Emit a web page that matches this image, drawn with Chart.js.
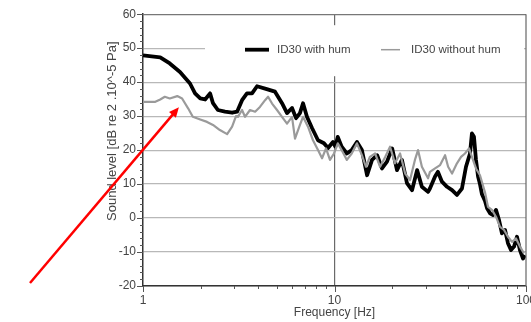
<!DOCTYPE html>
<html>
<head>
<meta charset="utf-8">
<script src="https://cdn.jsdelivr.net/npm/chart.js@4.4.0/dist/chart.umd.min.js"></script>
<style>
  html, body { margin: 0; padding: 0; background: #fff; overflow: hidden; }
  #wrap { width: 560px; height: 322px; }
</style>
</head>
<body>
<div id="wrap"><canvas id="chart" width="560" height="322"></canvas></div>
<script>
// data (frequency in Hz, level in dB)
const freqWithHum = [1.00, 1.23, 1.38, 1.56, 1.76, 1.87, 1.99, 2.11, 2.24, 2.32, 2.46, 2.68, 2.92, 3.10, 3.29, 3.49, 3.71, 3.94, 4.34, 4.89, 5.32, 5.65, 6.00, 6.30, 6.60, 6.85, 7.18, 7.63, 8.20, 8.81, 9.25, 9.82, 10.1, 10.4, 10.9, 11.6, 12.3, 13.1, 13.9, 14.8, 15.7, 16.7, 17.7, 18.8, 20.0, 21.2, 22.5, 23.9, 25.4, 27.0, 28.6, 30.8, 31.5, 33.5, 34.7, 36.4, 38.7, 41.1, 43.6, 46.3, 48.6, 51.0, 52.2, 53.5, 54.8, 56.2, 57.5, 58.9, 61.1, 62.6, 64.9, 67.3, 69.7, 72.3, 74.9, 77.7, 80.5, 83.5, 86.6, 89.7, 93.0, 96.5, 98.8]
const levelWithHum = [47.9, 47.3, 45.5, 43.0, 39.6, 36.7, 35.2, 34.9, 36.7, 33.8, 31.8, 31.3, 31.0, 31.3, 34.7, 36.7, 36.7, 38.8, 38.1, 37.2, 33.8, 30.9, 32.4, 29.4, 30.9, 33.8, 29.8, 26.5, 22.9, 22.0, 20.6, 22.4, 21.0, 23.9, 21.0, 19.0, 20.0, 22.4, 20.0, 12.6, 17.1, 18.5, 14.6, 16.6, 20.5, 14.1, 17.1, 10.3, 8.2, 14.1, 9.2, 7.7, 8.7, 12.2, 13.6, 10.7, 9.2, 8.2, 6.8, 8.7, 15.1, 19.0, 24.9, 23.9, 17.1, 12.2, 10.0, 7.0, 5.0, 2.9, 1.4, 0.9, 2.4, -0.6, -4.5, -3.5, -7.4, -9.4, -8.4, -5.5, -9.4, -11.9, -10.9]

const freqWithoutHum = [1.00, 1.16, 1.23, 1.30, 1.38, 1.51, 1.60, 1.72, 1.82, 1.99, 2.16, 2.32, 2.52, 2.75, 2.92, 3.06, 3.13, 3.29, 3.41, 3.62, 3.85, 4.08, 4.34, 4.50, 4.72, 5.01, 5.32, 5.65, 6.00, 6.22, 6.60, 6.85, 7.27, 7.72, 8.20, 8.61, 9.03, 9.47, 9.94, 10.4, 10.9, 11.6, 12.3, 13.1, 13.9, 14.6, 15.3, 16.3, 17.3, 18.4, 19.5, 20.7, 22.0, 23.4, 24.8, 26.3, 27.3, 28.6, 30.8, 31.5, 33.5, 35.6, 37.8, 39.2, 41.1, 43.6, 45.8, 48.0, 50.4, 52.2, 54.8, 57.5, 61.1, 63.3, 66.4, 69.7, 73.2, 76.8, 80.5, 84.5, 88.7, 93.0, 97.6]
const levelWithoutHum = [34.2, 34.2, 34.9, 35.7, 35.2, 35.9, 35.2, 32.3, 29.8, 29.0, 28.3, 27.4, 25.9, 24.7, 26.9, 30.0, 29.8, 31.8, 29.8, 31.8, 31.3, 32.7, 34.7, 35.7, 33.7, 31.8, 29.8, 27.8, 29.8, 23.4, 27.4, 29.8, 26.9, 22.9, 20.0, 17.6, 20.5, 17.1, 19.0, 22.0, 20.0, 17.1, 19.0, 22.0, 18.5, 15.1, 18.0, 19.0, 15.1, 18.0, 21.0, 16.1, 19.0, 13.1, 11.2, 17.1, 20.0, 15.1, 11.7, 13.6, 14.6, 15.6, 18.5, 15.1, 13.1, 16.1, 18.0, 19.0, 20.5, 18.0, 14.6, 12.6, 7.5, 3.3, 2.4, 0.4, -2.6, -3.5, -5.5, -7.0, -6.0, -8.4, -10.4]

const seriesNames = ['ID30 with hum', 'ID30 without hum']
const xTicks = [1, 10, 100]
const yTicks = [-20, -10, 0, 10, 20, 30, 40, 50, 60]
const xMinorTicks = [2, 3, 4, 5, 6, 7, 8, 9, 20, 30, 40, 50, 60, 70, 80, 90]
const yMinorStep = 2
const xTitle = 'Frequency [Hz]'
const yTitle = 'Sound level [dB re 2 .10^-5 Pa]'
const arrowTip = { x: 1.54, y: 32.6 }   // where the red arrow points

const FONT = 'Arial, "Liberation Sans", Helvetica, sans-serif'
const TEXT = '#444'

const toPoints = (xs, ys) => xs.map((x, i) => ({ x: x, y: ys[i] }))

// extras: minor ticks, right border, legend box, y title, red arrow
const extras = {
    id: 'extras',
    afterDraw(chart) {
        const { ctx, chartArea: a, scales } = chart
        const x = scales.x, y = scales.y
        ctx.save()

        // minor ticks
        ctx.strokeStyle = '#555'
        ctx.lineWidth = 1
        ctx.beginPath()
        for (let v = -20; v <= 60; v += yMinorStep) {
            const py = Math.round(y.getPixelForValue(v)) + 0.5
            const len = v % 10 === 0 ? 6 : 3
            ctx.moveTo(a.left - len, py)
            ctx.lineTo(a.left, py)
        }
        xMinorTicks.forEach(v => {
            const px = Math.round(x.getPixelForValue(v)) + 0.5
            ctx.moveTo(px, a.bottom)
            ctx.lineTo(px, a.bottom + 3)
        })
        xTicks.forEach(v => {
            const px = Math.round(x.getPixelForValue(v)) + 0.5
            ctx.moveTo(px, a.bottom)
            ctx.lineTo(px, a.bottom + 6)
        })
        ctx.stroke()

        // legend box (white, hides grid behind it)
        ctx.fillStyle = '#fff'
        ctx.fillRect(a.left + 62, a.top + 11, a.right - a.left - 64, 51)
        const ly = a.top + 35.5
        ctx.lineCap = 'butt'
        ctx.strokeStyle = '#000'
        ctx.lineWidth = 3.8
        ctx.beginPath(); ctx.moveTo(a.left + 102, ly); ctx.lineTo(a.left + 126, ly); ctx.stroke()
        ctx.strokeStyle = '#9a9a9a'
        ctx.lineWidth = 1.5
        ctx.beginPath(); ctx.moveTo(a.left + 238, ly); ctx.lineTo(a.left + 257, ly); ctx.stroke()
        ctx.fillStyle = TEXT
        ctx.font = '11.5px ' + FONT
        ctx.textBaseline = 'middle'
        ctx.textAlign = 'left'
        ctx.fillText(seriesNames[0], a.left + 134, ly)
        ctx.fillText(seriesNames[1], a.left + 268, ly)

        // right frame
        ctx.strokeStyle = '#666'
        ctx.lineWidth = 1.2
        ctx.beginPath(); ctx.moveTo(a.right, a.top); ctx.lineTo(a.right, a.bottom); ctx.stroke()

        // y title
        ctx.save()
        ctx.translate(a.left - 31, a.top + 117)
        ctx.rotate(-Math.PI / 2)
        ctx.textAlign = 'center'
        ctx.font = '13px ' + FONT
        ctx.fillStyle = TEXT
        ctx.fillText(yTitle, 0, 0)
        ctx.restore()

        // red arrow
        const tx = x.getPixelForValue(arrowTip.x), ty = y.getPixelForValue(arrowTip.y)
        const sx = 30, sy = 283
        const ang = Math.atan2(ty - sy, tx - sx)
        ctx.strokeStyle = '#f00'
        ctx.fillStyle = '#f00'
        ctx.lineWidth = 2.5
        ctx.beginPath(); ctx.moveTo(sx, sy); ctx.lineTo(tx - 6 * Math.cos(ang), ty - 6 * Math.sin(ang)); ctx.stroke()
        ctx.beginPath()
        ctx.moveTo(tx, ty)
        ctx.lineTo(tx - 10 * Math.cos(ang) + 4.5 * Math.sin(ang), ty - 10 * Math.sin(ang) - 4.5 * Math.cos(ang))
        ctx.lineTo(tx - 10 * Math.cos(ang) - 4.5 * Math.sin(ang), ty - 10 * Math.sin(ang) + 4.5 * Math.cos(ang))
        ctx.closePath()
        ctx.fill()

        ctx.restore()
    }
}

new Chart(document.getElementById('chart'), {
    type: 'line',
    data: {
        datasets: [
            {
                label: seriesNames[0],
                data: toPoints(freqWithHum, levelWithHum),
                borderColor: '#000',
                borderWidth: 3.8,
                borderJoinStyle: 'round',
                pointRadius: 0,
                order: 1
            },
            {
                label: seriesNames[1],
                data: toPoints(freqWithoutHum, levelWithoutHum),
                borderColor: '#9a9a9a',
                borderWidth: 2.2,
                borderJoinStyle: 'round',
                pointRadius: 0,
                order: 0
            }
        ]
    },
    options: {
        responsive: false,
        animation: false,
        devicePixelRatio: 1,
        layout: { padding: { top: 14, right: 34, left: 0, bottom: 0 } },
        plugins: { legend: { display: false }, tooltip: { enabled: false } },
        scales: {
            x: {
                type: 'logarithmic',
                min: 1,
                max: 100,
                afterFit: s => { s.height = 36 },
                afterBuildTicks: s => { s.ticks = xTicks.map(v => ({ value: v })) },
                ticks: {
                    autoSkip: false,
                    maxRotation: 0,
                    padding: 7,
                    color: TEXT,
                    font: { family: FONT, size: 12 },
                    callback: v => String(v)
                },
                grid: {
                    drawTicks: false,
                    lineWidth: 1.2,
                    color: c => (c.tick && c.tick.value === 10) ? '#6a6a6a' : 'rgba(0,0,0,0)'
                },
                border: { color: '#333', width: 1.5 },
                title: {
                    display: true,
                    text: xTitle,
                    color: TEXT,
                    font: { family: FONT, size: 12 },
                    padding: { top: 0, bottom: 2 }
                }
            },
            y: {
                min: -20,
                max: 60,
                afterFit: s => { s.width = 143 },
                afterBuildTicks: s => { s.ticks = yTicks.map(v => ({ value: v })) },
                ticks: {
                    padding: 7,
                    color: TEXT,
                    font: { family: FONT, size: 12 }
                },
                grid: {
                    drawTicks: false,
                    lineWidth: 1.2,
                    color: c => (c.tick && c.tick.value === 60) ? '#777' : '#b8b8b8'
                },
                border: { color: '#333', width: 1.5 }
            }
        }
    },
    plugins: [extras]
})
</script>
</body>
</html>
